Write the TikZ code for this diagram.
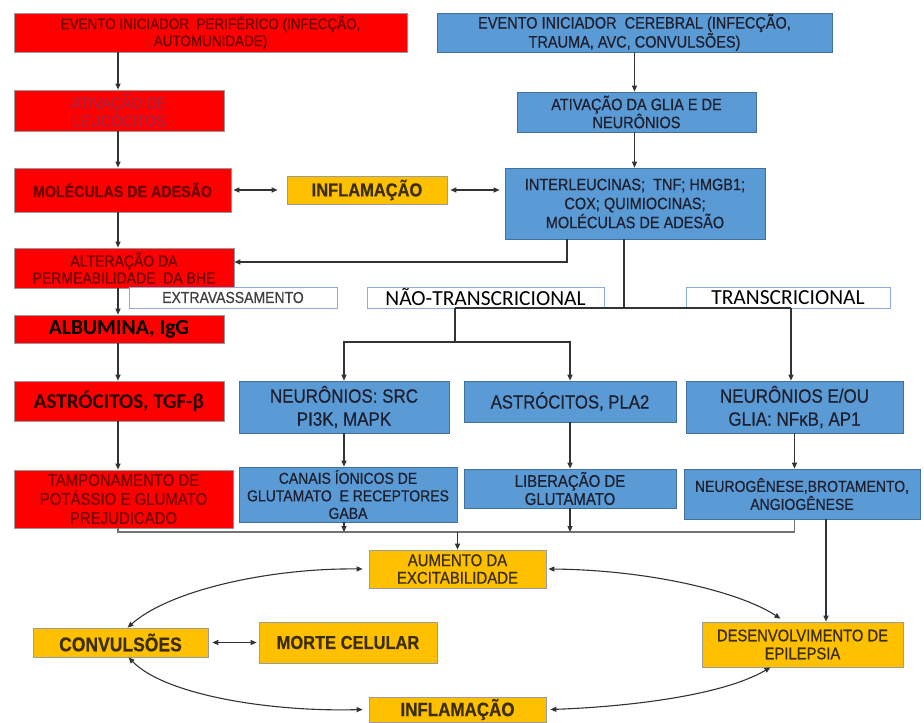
\documentclass[tikz,border=0pt]{standalone}
\usepackage{fontspec}
\setmainfont{Liberation Sans}[FakeStretch=0.88, FakeBold=0.6]
\newfontfamily\calfont{Carlito}
\usetikzlibrary{arrows.meta}
\definecolor{myred}{HTML}{FF0000}
\definecolor{redtext}{HTML}{6E0000}
\definecolor{redtextB}{HTML}{780505}
\definecolor{redfaint}{HTML}{B02040}
\definecolor{myblue}{HTML}{5B9BD5}
\definecolor{blueline}{HTML}{41719C}
\definecolor{bluetext}{HTML}{1E2030}
\definecolor{myorange}{HTML}{FFC000}
\definecolor{orline}{HTML}{9C9C9C}
\definecolor{ortext}{HTML}{3B2E00}
\definecolor{lblline}{HTML}{8FAADC}
\definecolor{arrcol}{HTML}{333333}
\newcommand\fsz[2]{\fontsize{#1}{#2}\selectfont}
\tikzset{
  base/.style={rectangle, inner sep=0pt, align=center, line width=0.7pt},
  redbox/.style={base, fill=myred, draw=black!40, text=redtext},
  bluebox/.style={base, fill=myblue, draw=blueline, text=bluetext},
  orbox/.style={base, fill=myorange, draw=orline, text=ortext},
  lblbox/.style={base, fill=white, draw=lblline, text=black},
  ln/.style={draw=arrcol, line width=1.1pt},
  arr/.style={ln, -{Triangle[length=6pt,width=5pt]}},
  darr/.style={ln, {Triangle[length=6pt,width=5pt]}-{Triangle[length=6pt,width=5pt]}},
}
\begin{document}
\begin{tikzpicture}[x=1pt,y=-1pt]
\useasboundingbox (0,0) rectangle (924,723);
% red column
\node[redbox, minimum width=393pt, minimum height=39pt, font=\fsz{15.3}{17}] (r1) at (210.5,32.5) {EVENTO INICIADOR\ \ PERIFÉRICO (INFECÇÃO,\\AUTOMUNIDADE)};
\node[redbox, text=redfaint, minimum width=210pt, minimum height=41pt, font=\fsz{16.5}{18}] (r2) at (119,110.5) {ATIVAÇÃO DE\\LEUCÓCITOS};
\node[redbox, minimum width=217pt, minimum height=44pt, font=\fsz{16.2}{18}\bfseries] (r3) at (122.5,190) {MOLÉCULAS DE ADESÃO};
\node[redbox, minimum width=220pt, minimum height=40pt, font=\fsz{15.9}{17}] (r4) at (124,268) {ALTERAÇÃO DA\\PERMEABILIDADE\ \ DA BHE};
\node[redbox, text=black, minimum width=210pt, minimum height=28pt, font=\calfont\fsz{21.5}{22}\bfseries] (r5) at (119,329) {ALBUMINA, IgG};
\node[redbox, text=black!85!red, minimum width=210pt, minimum height=40pt, font=\calfont\fsz{21}{22}\bfseries] (r6) at (119,401) {ASTRÓCITOS, TGF-β};
\node[redbox, text=redtextB, minimum width=219pt, minimum height=58pt, font=\fsz{17}{19}] (r7) at (123.5,499) {TAMPONAMENTO DE\\POTÁSSIO E GLUMATO\\PREJUDICADO};
% inflammation middle
\node[orbox, minimum width=160pt, minimum height=28pt, font=\fsz{18.7}{20}\bfseries] (inf1) at (367,190) {INFLAMAÇÃO};
% blue column
\node[bluebox, minimum width=395pt, minimum height=39pt, font=\fsz{16.5}{17}] (b1) at (634.5,32.5) {EVENTO INICIADOR\ \ CEREBRAL (INFECÇÃO,\\TRAUMA, AVC, CONVULSÕES)};
\node[bluebox, minimum width=239pt, minimum height=40pt, font=\fsz{16.5}{18}] (b2) at (636.5,112) {ATIVAÇÃO DA GLIA E DE\\NEURÔNIOS};
\node[bluebox, minimum width=260pt, minimum height=71pt, font=\fsz{16.5}{19}] (b3) at (635,203.5) {INTERLEUCINAS;\ \ TNF; HMGB1;\\COX; QUIMIOCINAS;\\MOLÉCULAS DE ADESÃO};
% labels
\node[lblbox, text=black!75, minimum width=208pt, minimum height=21pt, font=\fsz{15.9}{17}] (lext) at (233,297.5) {EXTRAVASSAMENTO};
\node[lblbox, minimum width=237pt, minimum height=21pt, font=\calfont\fsz{21.5}{22}] (lnt) at (485.5,297.5) {NÃO-TRANSCRICIONAL};
\node[lblbox, minimum width=204pt, minimum height=21pt, font=\calfont\fsz{21.5}{22}] (ltr) at (788,297.5) {TRANSCRICIONAL};
% second blue row
\node[bluebox, minimum width=210pt, minimum height=52pt, font=\fsz{19.3}{23}] (n1) at (344,407) {NEURÔNIOS: SRC\\PI3K, MAPK};
\node[bluebox, minimum width=212pt, minimum height=41pt, font=\fsz{19}{21}] (a1) at (570,401.5) {ASTRÓCITOS, PLA2};
\node[bluebox, minimum width=217pt, minimum height=52pt, font=\fsz{19.3}{23}] (n2) at (794.5,407) {NEURÔNIOS E/OU\\GLIA: NFκB, AP1};
\node[bluebox, minimum width=218pt, minimum height=55pt, font=\fsz{15.9}{17.5}] (can) at (348,494.5) {CANAIS ÍONICOS DE\\GLUTAMATO\ \ E RECEPTORES\\GABA};
\node[bluebox, minimum width=212pt, minimum height=39pt, font=\fsz{17}{18}] (lib) at (570,488.5) {LIBERAÇÃO DE\\GLUTAMATO};
\node[bluebox, minimum width=236pt, minimum height=50pt, font=\fsz{15.9}{18}] (neu) at (802,494) {NEUROGÊNESE,BROTAMENTO,\\ANGIOGÊNESE};
% orange bottom
\node[orbox, minimum width=177pt, minimum height=38pt, font=\fsz{17}{17.5}] (aum) at (457.5,569) {AUMENTO DA\\EXCITABILIDADE};
\node[orbox, minimum width=175pt, minimum height=29pt, font=\fsz{19.9}{21}\bfseries] (conv) at (120.5,642.5) {CONVULSÕES};
\node[orbox, minimum width=178pt, minimum height=41pt, font=\fsz{18.7}{20}\bfseries] (mor) at (348,642.5) {MORTE CELULAR};
\node[orbox, minimum width=201pt, minimum height=45pt, font=\fsz{16.8}{18}] (des) at (802.5,644.5) {DESENVOLVIMENTO DE\\EPILEPSIA};
\node[orbox, minimum width=177pt, minimum height=25pt, font=\fsz{19.3}{20}\bfseries] (inf2) at (457.5,709.5) {INFLAMAÇÃO};
% helper coordinates
\coordinate (cx) at (118,0);
\coordinate (j1) at (567,262);
\coordinate (j2) at (624,308);
\coordinate (j3) at (455,308);
\coordinate (j4) at (791,308);
\coordinate (j5) at (455,342);
\coordinate (j6) at (826,0);
\coordinate (k) at (0,532);
% red column arrows
\draw[arr] (r1.south -| cx) -- (r2.north -| cx);
\draw[arr] (r2.south -| cx) -- (r3.north -| cx);
\draw[arr] (r3.south -| cx) -- (r4.north -| cx);
\draw[arr] (r4.south -| cx) -- (r5.north -| cx);
\draw[arr] (r5.south -| cx) -- (r6.north -| cx);
\draw[arr] (r6.south -| cx) -- (r7.north -| cx);
% inflammation links
\draw[darr, shorten <=2pt, shorten >=9pt] (r3.east) -- (inf1.west);
\draw[darr, shorten <=3pt, shorten >=5pt] (inf1.east) -- (inf1.east -| b3.west);
% blue column
\draw[arr] (b1.south) -- (b1.south |- b2.north);
\draw[arr] (b2.south -| b1.south) -- (b3.north -| b1.south);
\draw[arr] (b3.south -| j1) |- (r4.east |- j1);
\draw[ln] (b3.south -| j2) -- (j2);
\draw[ln] (j3) -- (j4);
\draw[ln] (j3) -- (j5);
\draw[arr] (j5) -| (n1.north);
\draw[arr] (j5) -| (a1.north);
\draw[arr] (j4) -- (j4 |- n2.north);
\draw[arr] (n1.south) -- (n1.south |- can.north);
\draw[arr] (a1.south) -- (a1.south |- lib.north);
\draw[arr] (n2.south) -- (n2.south |- neu.north);
% collector
\draw[ln, draw=black!55] (r7.south -| cx) -- (cx |- k) -- (k -| n2.south) -- (n2.south |- neu.south);
\draw[arr] (can.south -| n1.south) -- (n1.south |- k);
\draw[arr] (lib.south) -- (lib.south |- k);
\draw[arr] (k -| aum.north) -- (aum.north);
\draw[arr] (neu.south -| j6) -- (des.north -| j6);
% cycle
\draw[darr] ([xshift=7pt]conv.north) .. controls (170,590) and (270,568) .. ([xshift=-6pt]aum.west);
\draw[darr] ([xshift=8pt]conv.south) .. controls (165,695) and (270,712) .. ([xshift=-6pt]inf2.west);
\draw[darr] ([xshift=2pt]aum.east) .. controls (650,570) and (740,592) .. ([xshift=-22pt,yshift=3pt]des.north);
\draw[darr] ([xshift=-32pt]des.south) .. controls (720,697) and (620,707) .. ([xshift=4pt]inf2.east);
\draw[darr, shorten <=4pt, shorten >=2pt] (conv.east) -- (mor.west);
\end{tikzpicture}
\end{document}
